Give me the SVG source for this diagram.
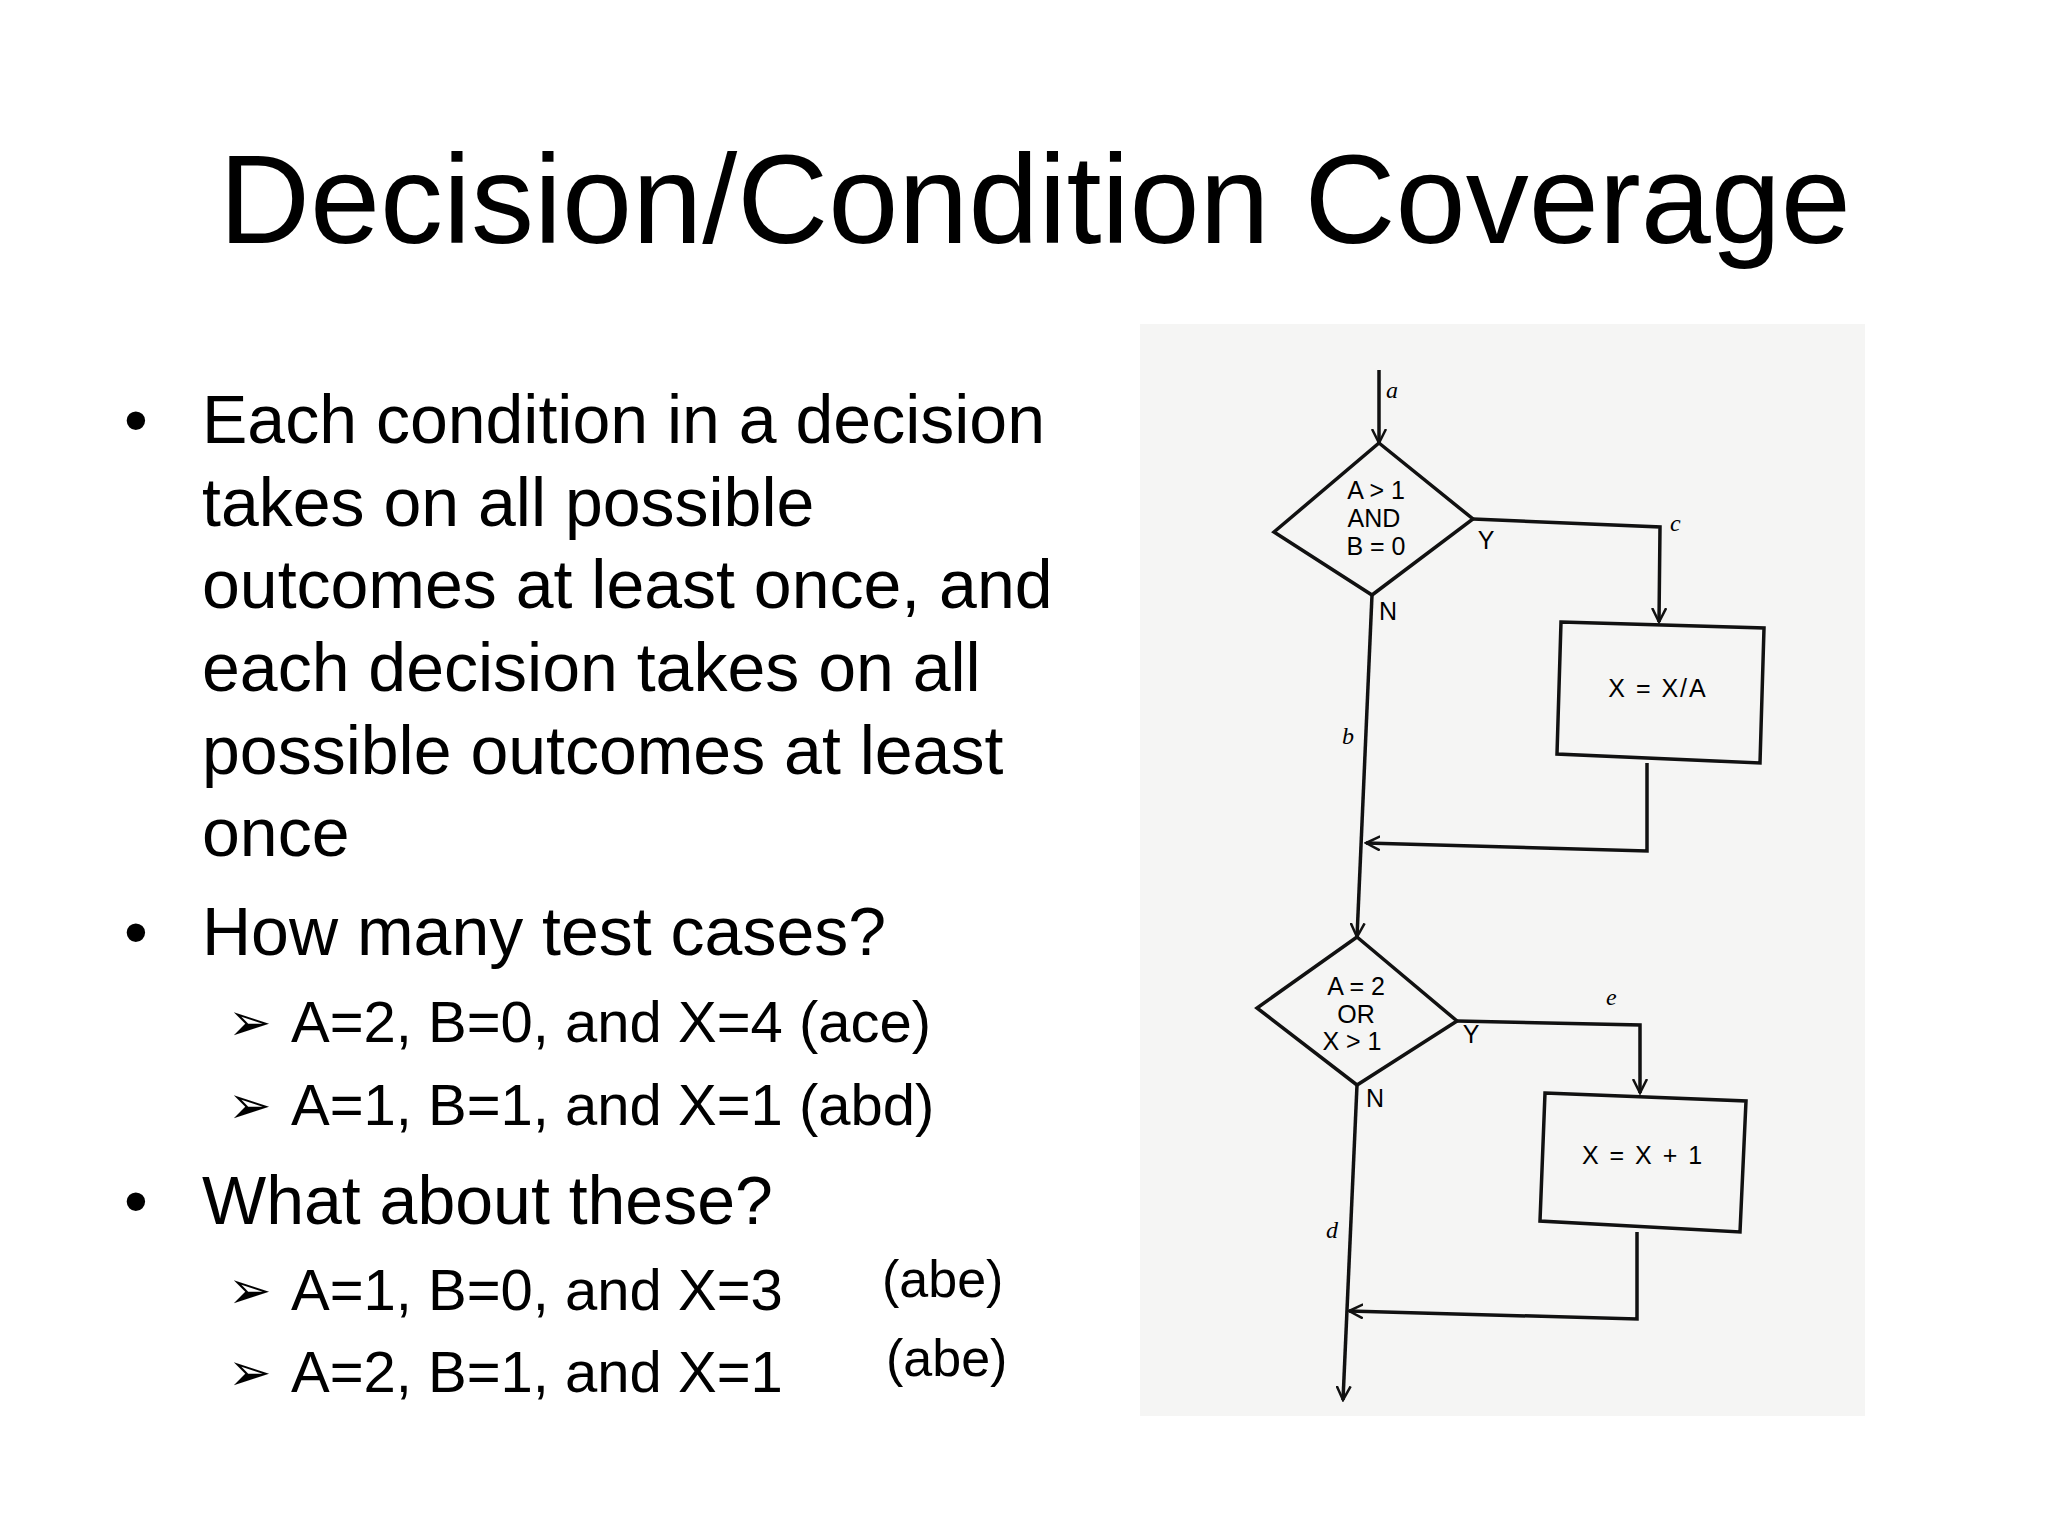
<svg xmlns="http://www.w3.org/2000/svg" width="2048" height="1536" viewBox="0 0 2048 1536">
<style>
.t{font-family:"Liberation Sans",Arial,sans-serif;fill:#000}
.b{font-size:68px}
.s{font-size:58px}
.ag{font-family:"DejaVu Sans",sans-serif;font-size:52px}
.fc{font-family:"Liberation Sans",Arial,sans-serif;font-size:25px;text-anchor:middle}
.lb{font-family:"Liberation Serif",serif;font-style:italic;font-size:24px}
.ln{fill:none;stroke:#111;stroke-width:3.5}
</style>
<defs>
<marker id="ar" markerWidth="16" markerHeight="16" refX="14" refY="8" orient="auto" markerUnits="userSpaceOnUse">
<path d="M0,1 L14,8 L0,15" fill="none" stroke="#111" stroke-width="2.5"/>
</marker>
</defs>
<rect width="2048" height="1536" fill="#fff"/>
<text class="t" x="1035" y="243" font-size="126" text-anchor="middle">Decision/Condition Coverage</text>
<g id="bullets">
<text class="t b" x="124" y="443">•</text>
<text class="t b" x="202" y="443">Each condition in a decision</text>
<text class="t b" x="202" y="526">takes on all possible</text>
<text class="t b" x="202" y="608">outcomes at least once, and</text>
<text class="t b" x="202" y="691">each decision takes on all</text>
<text class="t b" x="202" y="774">possible outcomes at least</text>
<text class="t b" x="202" y="856">once</text>
<text class="t b" x="124" y="955">•</text>
<text class="t b" x="202" y="955">How many test cases?</text>
<text class="t ag" x="228" y="1040">➢</text>
<text class="t s" x="291" y="1042">A=2, B=0, and X=4 (ace)</text>
<text class="t ag" x="228" y="1123">➢</text>
<text class="t s" x="291" y="1125">A=1, B=1, and X=1 (abd)</text>
<text class="t b" x="124" y="1224">•</text>
<text class="t b" x="202" y="1224">What about these?</text>
<text class="t ag" x="228" y="1308">➢</text>
<text class="t s" x="291" y="1310">A=1, B=0, and X=3</text>
<text class="t" x="882" y="1297" font-size="52">(abe)</text>
<text class="t ag" x="228" y="1390">➢</text>
<text class="t s" x="291" y="1392">A=2, B=1, and X=1</text>
<text class="t" x="886" y="1376" font-size="52">(abe)</text>
</g>
<rect x="1140" y="324" width="725" height="1092" fill="#f5f5f4"/>
<g id="d1">
<polygon class="ln" points="1379,443 1473,519 1372,595 1274,532"/>
<text class="fc" x="1376" y="499">A &gt; 1</text>
<text class="fc" x="1374" y="527">AND</text>
<text class="fc" x="1376" y="555">B = 0</text>
</g>
<g id="box1">
<polygon class="ln" points="1561,622 1764,628 1760,763 1557,754"/>
<text class="fc" x="1658" y="697" letter-spacing="2">X = X/A</text>
</g>
<g id="d2">
<polygon class="ln" points="1357,937 1457,1021 1357,1085 1257,1008"/>
<text class="fc" x="1356" y="995">A = 2</text>
<text class="fc" x="1356" y="1023">OR</text>
<text class="fc" x="1352" y="1050">X &gt; 1</text>
</g>
<g id="box2">
<polygon class="ln" points="1545,1093 1746,1101 1740,1232 1540,1221"/>
<text class="fc" x="1643" y="1164" letter-spacing="2">X = X + 1</text>
</g>
<g id="connectors">
<path class="ln" d="M1379,370 L1379,443" marker-end="url(#ar)"/>
<path class="ln" d="M1473,519 L1660,527 L1659,622" marker-end="url(#ar)"/>
<path class="ln" d="M1647,763 L1647,851 L1366,843" marker-end="url(#ar)"/>
<path class="ln" d="M1372,595 L1357,937" marker-end="url(#ar)"/>
<path class="ln" d="M1457,1021 L1640,1025 L1640,1093" marker-end="url(#ar)"/>
<path class="ln" d="M1637,1232 L1637,1319 L1349,1311" marker-end="url(#ar)"/>
<path class="ln" d="M1357,1085 L1343,1400" marker-end="url(#ar)"/>
<text class="lb" x="1386" y="398">a</text>
<text class="fc" x="1486" y="549">Y</text>
<text class="lb" x="1670" y="531">c</text>
<text class="fc" x="1388" y="620">N</text>
<text class="lb" x="1342" y="744">b</text>
<text class="fc" x="1471" y="1043">Y</text>
<text class="lb" x="1606" y="1005">e</text>
<text class="fc" x="1375" y="1107">N</text>
<text class="lb" x="1326" y="1238">d</text>
</g>
</svg>
